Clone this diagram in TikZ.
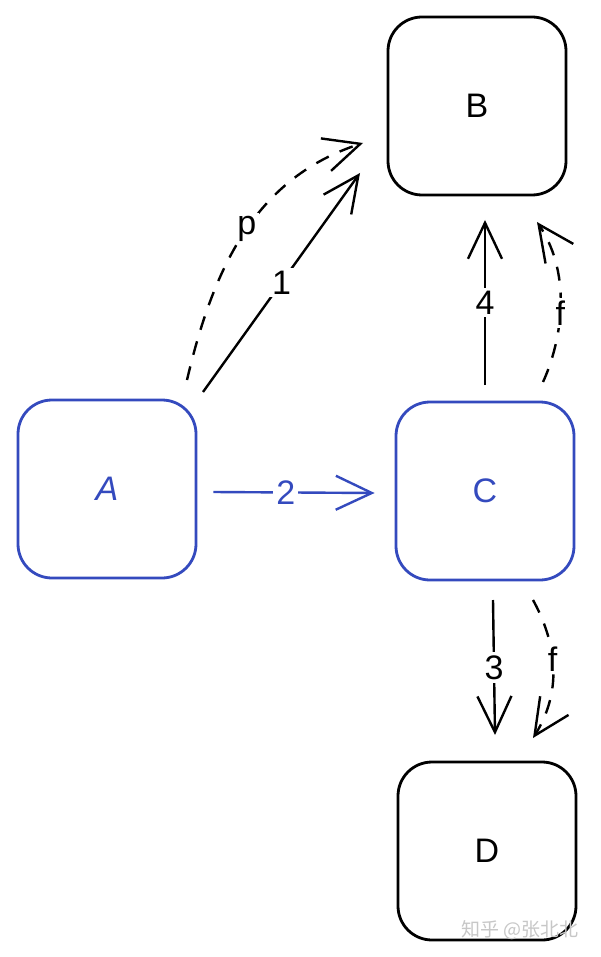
\documentclass[tikz,border=0pt]{standalone}
\usepackage{fontspec}
\setmainfont{Liberation Sans}
\newfontfamily\cjk{Noto Sans CJK SC}
\usetikzlibrary{arrows.meta,calc,bending}
\definecolor{sketchblue}{RGB}{52,74,190}
\tikzset{
  x=0.5pt, y=-0.5pt,
  box/.style={draw, line width=1.4pt, rounded corners=17pt, minimum width=89pt, minimum height=89pt, inner sep=0pt, font=\fontsize{17}{20}\selectfont},
  bluebox/.style={box, draw=sketchblue, text=sketchblue},
  conn/.style={line width=1.2pt, -{Straight Barb[length=18pt,width=17pt,line width=1.2pt]}},
  dconn/.style={conn, dashed, dash pattern=on 7pt off 6pt},
  lbl/.style={fill=white, inner sep=1.5pt, font=\fontsize{17}{20}\selectfont},
}
\begin{document}
\begin{tikzpicture}
\useasboundingbox (0,0) rectangle (600,957);
\fill[white] (0,0) rectangle (600,957);
\node[box] (B) at (477,106) {B};
\node[bluebox] (A) at (107,489) {\itshape A};
\node[bluebox] (C) at (485,491) {C};
\node[box] (D) at (487,851) {D};
% coordinates for free ends
\coordinate (a1) at (203,392);
\coordinate (b1) at (360,173);
\coordinate (ap) at (187,380);
\coordinate (bp) at (363,143);
\coordinate (a2) at ($(A.east)+(16,3)$);
\coordinate (c2) at ($(C.west)+(-20,2)$);
\coordinate (c4) at (485,385);
\coordinate (b4) at (485,220);
\coordinate (cf) at (543,382);
\coordinate (bf) at (537,222);
\coordinate (c3) at (493,600);
\coordinate (d3) at (495,735);
\coordinate (cg) at (533,600);
\coordinate (dg) at (533,738);
% arrows
\draw[conn] (a1) -- node[lbl, pos=0.5] {1} (b1);
\draw[dconn] (ap) .. controls (215,260) and (260,175) .. node[lbl, pos=0.5] {p} (bp);
\draw[conn, sketchblue] (a2) -- node[lbl, text=sketchblue, pos=0.45] {2} (c2);
\draw[conn] (c4) -- node[lbl, pos=0.5] {4} (b4);
\draw[dconn] (cf) .. controls (560,345) and (575,275) .. node[lbl, pos=0.47] {f} (bf);
\draw[conn] (c3) -- node[lbl, pos=0.5] {3} (d3);
\draw[dconn] (cg) .. controls (555,640) and (565,690) .. node[lbl, pos=0.45] {f} (dg);
\node[text=black!22, font=\cjk\fontsize{9.5}{11}\selectfont, anchor=east] (wm) at (586,930) {知乎 @张北北};
\end{tikzpicture}
\end{document}
